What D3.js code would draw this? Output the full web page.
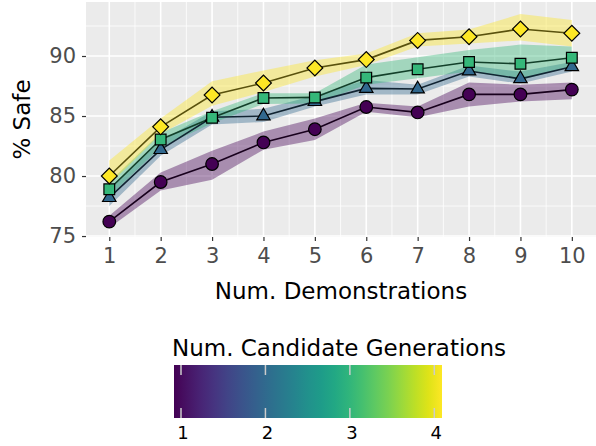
<!DOCTYPE html>
<html>
<head>
<meta charset="utf-8">
<script src="https://cdn.jsdelivr.net/npm/d3@7"></script>
<style>
  body { margin: 0; background: #fff; }
  text { font-family: "DejaVu Sans", sans-serif; }
</style>
</head>
<body>
<div id="chart"></div>
<script>
// x values and color levels
const demos = [1, 2, 3, 4, 5, 6, 7, 8, 9, 10];
const generations = [1, 2, 3, 4];

// % safe per generation count (mean, lower, upper)
const safe1 = [76.2, 79.5, 81.0, 82.8, 83.9, 85.75, 85.3, 86.8, 86.8, 87.2];
const lo1 = [75.7, 78.8, 79.7, 82.2, 83.0, 85.35, 84.9, 85.8, 86.2, 86.4];
const hi1 = [76.7, 80.3, 82.1, 83.7, 84.8, 86.1, 85.8, 87.8, 87.6, 87.8];

const safe2 = [78.2, 82.2, 84.9, 85.0, 86.2, 87.3, 87.25, 88.75, 88.1, 89.1];
const lo2 = [77.5, 81.7, 84.3, 84.5, 85.8, 86.8, 86.8, 88.3, 87.7, 88.7];
const hi2 = [79.0, 82.9, 85.4, 85.6, 86.7, 88.0, 87.6, 89.2, 88.7, 89.5];

const safe3 = [78.9, 83.05, 84.85, 86.5, 86.55, 88.2, 88.9, 89.5, 89.35, 89.85];
const lo3 = [78.3, 82.4, 84.4, 86.0, 86.05, 87.6, 88.15, 88.7, 88.0, 89.1];
const hi3 = [79.5, 83.6, 85.4, 86.9, 86.9, 89.3, 89.9, 90.5, 90.95, 90.8];

const safe4 = [80.0, 84.1, 86.75, 87.75, 89.0, 89.7, 91.3, 91.6, 92.25, 91.9];
const lo4 = [79.3, 83.5, 85.85, 87.0, 88.3, 89.25, 90.8, 91.05, 91.3, 90.8];
const hi4 = [81.3, 84.8, 87.9, 88.8, 89.65, 90.2, 91.9, 92.2, 93.5, 93.0];

const yTicks = [75, 80, 85, 90];
const legendTicks = [1, 2, 3, 4];

// diamond = square turned 45 degrees
const series = [
    { g: 1, mean: safe1, lo: lo1, hi: hi1, shape: d3.symbolCircle, size: 125, rot: 0 },
    { g: 2, mean: safe2, lo: lo2, hi: hi2, shape: d3.symbolTriangle, size: 78, rot: 0 },
    { g: 3, mean: safe3, lo: lo3, hi: hi3, shape: d3.symbolSquare, size: 115, rot: 0 },
    { g: 4, mean: safe4, lo: lo4, hi: hi4, shape: d3.symbolSquare, size: 125, rot: 45 }
];

const width = 596, height = 446;
const panel = { left: 86, right: 596, top: 2, bottom: 237 };

const svg = d3.select("#chart").append("svg")
    .attr("width", width)
    .attr("height", height);

const x = d3.scaleLinear().domain([0.547, 10.47]).range([panel.left, panel.right]);
const y = d3.scaleLinear().domain([74.92, 94.5]).range([panel.bottom, panel.top]);
const color = d3.scaleSequential(d3.interpolateViridis).domain([1, 4]);

// panel background and grid
svg.append("rect")
    .attr("x", panel.left).attr("y", panel.top)
    .attr("width", panel.right - panel.left)
    .attr("height", panel.bottom - panel.top)
    .attr("fill", "#ebebeb");

const grid = svg.append("g");
const xMinor = d3.range(0.5, 11, 1).filter(v => x(v) > panel.left && x(v) < panel.right);
const yMinor = [77.5, 82.5, 87.5, 92.5];
grid.selectAll(".xminor").data(xMinor).enter().append("line")
    .attr("x1", d => x(d)).attr("x2", d => x(d))
    .attr("y1", panel.top).attr("y2", panel.bottom)
    .attr("stroke", "#fff").attr("stroke-width", 0.8);
grid.selectAll(".yminor").data(yMinor).enter().append("line")
    .attr("x1", panel.left).attr("x2", panel.right)
    .attr("y1", d => y(d)).attr("y2", d => y(d))
    .attr("stroke", "#fff").attr("stroke-width", 0.8);
grid.selectAll(".xmajor").data(demos).enter().append("line")
    .attr("x1", d => x(d)).attr("x2", d => x(d))
    .attr("y1", panel.top).attr("y2", panel.bottom)
    .attr("stroke", "#fff").attr("stroke-width", 1.6);
grid.selectAll(".ymajor").data(yTicks).enter().append("line")
    .attr("x1", panel.left).attr("x2", panel.right)
    .attr("y1", d => y(d)).attr("y2", d => y(d))
    .attr("stroke", "#fff").attr("stroke-width", 1.6);

// ribbons
const area = d3.area()
    .x((d, i) => x(demos[i]))
    .y0(d => y(d[0]))
    .y1(d => y(d[1]));

series.forEach(s => {
    svg.append("path")
        .datum(s.lo.map((v, i) => [v, s.hi[i]]))
        .attr("d", area)
        .attr("fill", color(s.g))
        .attr("fill-opacity", 0.4);
});

// lines
const line = d3.line()
    .x((d, i) => x(demos[i]))
    .y(d => y(d));

series.forEach(s => {
    svg.append("path")
        .datum(s.mean)
        .attr("d", line)
        .attr("fill", "none")
        .attr("stroke", d3.interpolateRgb(color(s.g), "#000")(0.65))
        .attr("stroke-width", 1.6);
});

// points
series.forEach(s => {
    svg.append("g").selectAll("path")
        .data(s.mean)
        .enter()
        .append("path")
        .attr("transform", (d, i) => `translate(${x(demos[i])},${y(d)}) rotate(${s.rot})`)
        .attr("d", d3.symbol().type(s.shape).size(s.size))
        .attr("fill", color(s.g))
        .attr("stroke", "#000")
        .attr("stroke-width", 1.2);
});

// axes
const xAxis = svg.append("g")
    .attr("transform", `translate(0,${panel.bottom})`)
    .call(d3.axisBottom(x).tickValues(demos).tickSize(4).tickPadding(7));
const yAxis = svg.append("g")
    .attr("transform", `translate(${panel.left},0)`)
    .call(d3.axisLeft(y).tickValues(yTicks).tickSize(4).tickPadding(6));
[xAxis, yAxis].forEach(a => {
    a.select(".domain").remove();
    a.selectAll(".tick line").attr("stroke", "#333").attr("stroke-width", 1.2);
    a.selectAll(".tick text")
        .attr("fill", "#4d4d4d")
        .style("font-size", "21px")
        .style("font-family", "DejaVu Sans");
});

svg.append("text")
    .attr("x", (panel.left + panel.right) / 2)
    .attr("y", 299)
    .attr("text-anchor", "middle")
    .style("font-size", "23px")
    .text("Num. Demonstrations");

svg.append("text")
    .attr("transform", `translate(30,${(panel.top + panel.bottom) / 2}) rotate(-90)`)
    .attr("text-anchor", "middle")
    .style("font-size", "23px")
    .text("% Safe");

// colorbar legend
const bar = { left: 174, right: 442, top: 365, bottom: 418 };
const lx = d3.scaleLinear().domain([1, 4]).range([181, 434.3]);

const defs = svg.append("defs");
const grad = defs.append("linearGradient").attr("id", "viridis");
d3.range(0, 1.0001, 0.05).forEach(t => {
    grad.append("stop")
        .attr("offset", `${t * 100}%`)
        .attr("stop-color", d3.interpolateViridis(t));
});

svg.append("text")
    .attr("x", 172)
    .attr("y", 356)
    .style("font-size", "23px")
    .text("Num. Candidate Generations");

svg.append("rect")
    .attr("x", bar.left).attr("y", bar.top)
    .attr("width", bar.right - bar.left)
    .attr("height", bar.bottom - bar.top)
    .attr("fill", "url(#viridis)");

const lg = svg.append("g");
lg.selectAll(".ttop").data(legendTicks).enter().append("line")
    .attr("x1", d => lx(d)).attr("x2", d => lx(d))
    .attr("y1", bar.top).attr("y2", bar.top + 10)
    .attr("stroke", "#ccc").attr("stroke-width", 1.5);
lg.selectAll(".tbot").data(legendTicks).enter().append("line")
    .attr("x1", d => lx(d)).attr("x2", d => lx(d))
    .attr("y1", bar.bottom - 10).attr("y2", bar.bottom)
    .attr("stroke", "#ccc").attr("stroke-width", 1.5);
lg.selectAll("text").data(legendTicks).enter().append("text")
    .attr("x", d => lx(d) + 2)
    .attr("y", 439)
    .attr("text-anchor", "middle")
    .style("font-size", "18px")
    .text(d => d);
</script>
</body>
</html>
